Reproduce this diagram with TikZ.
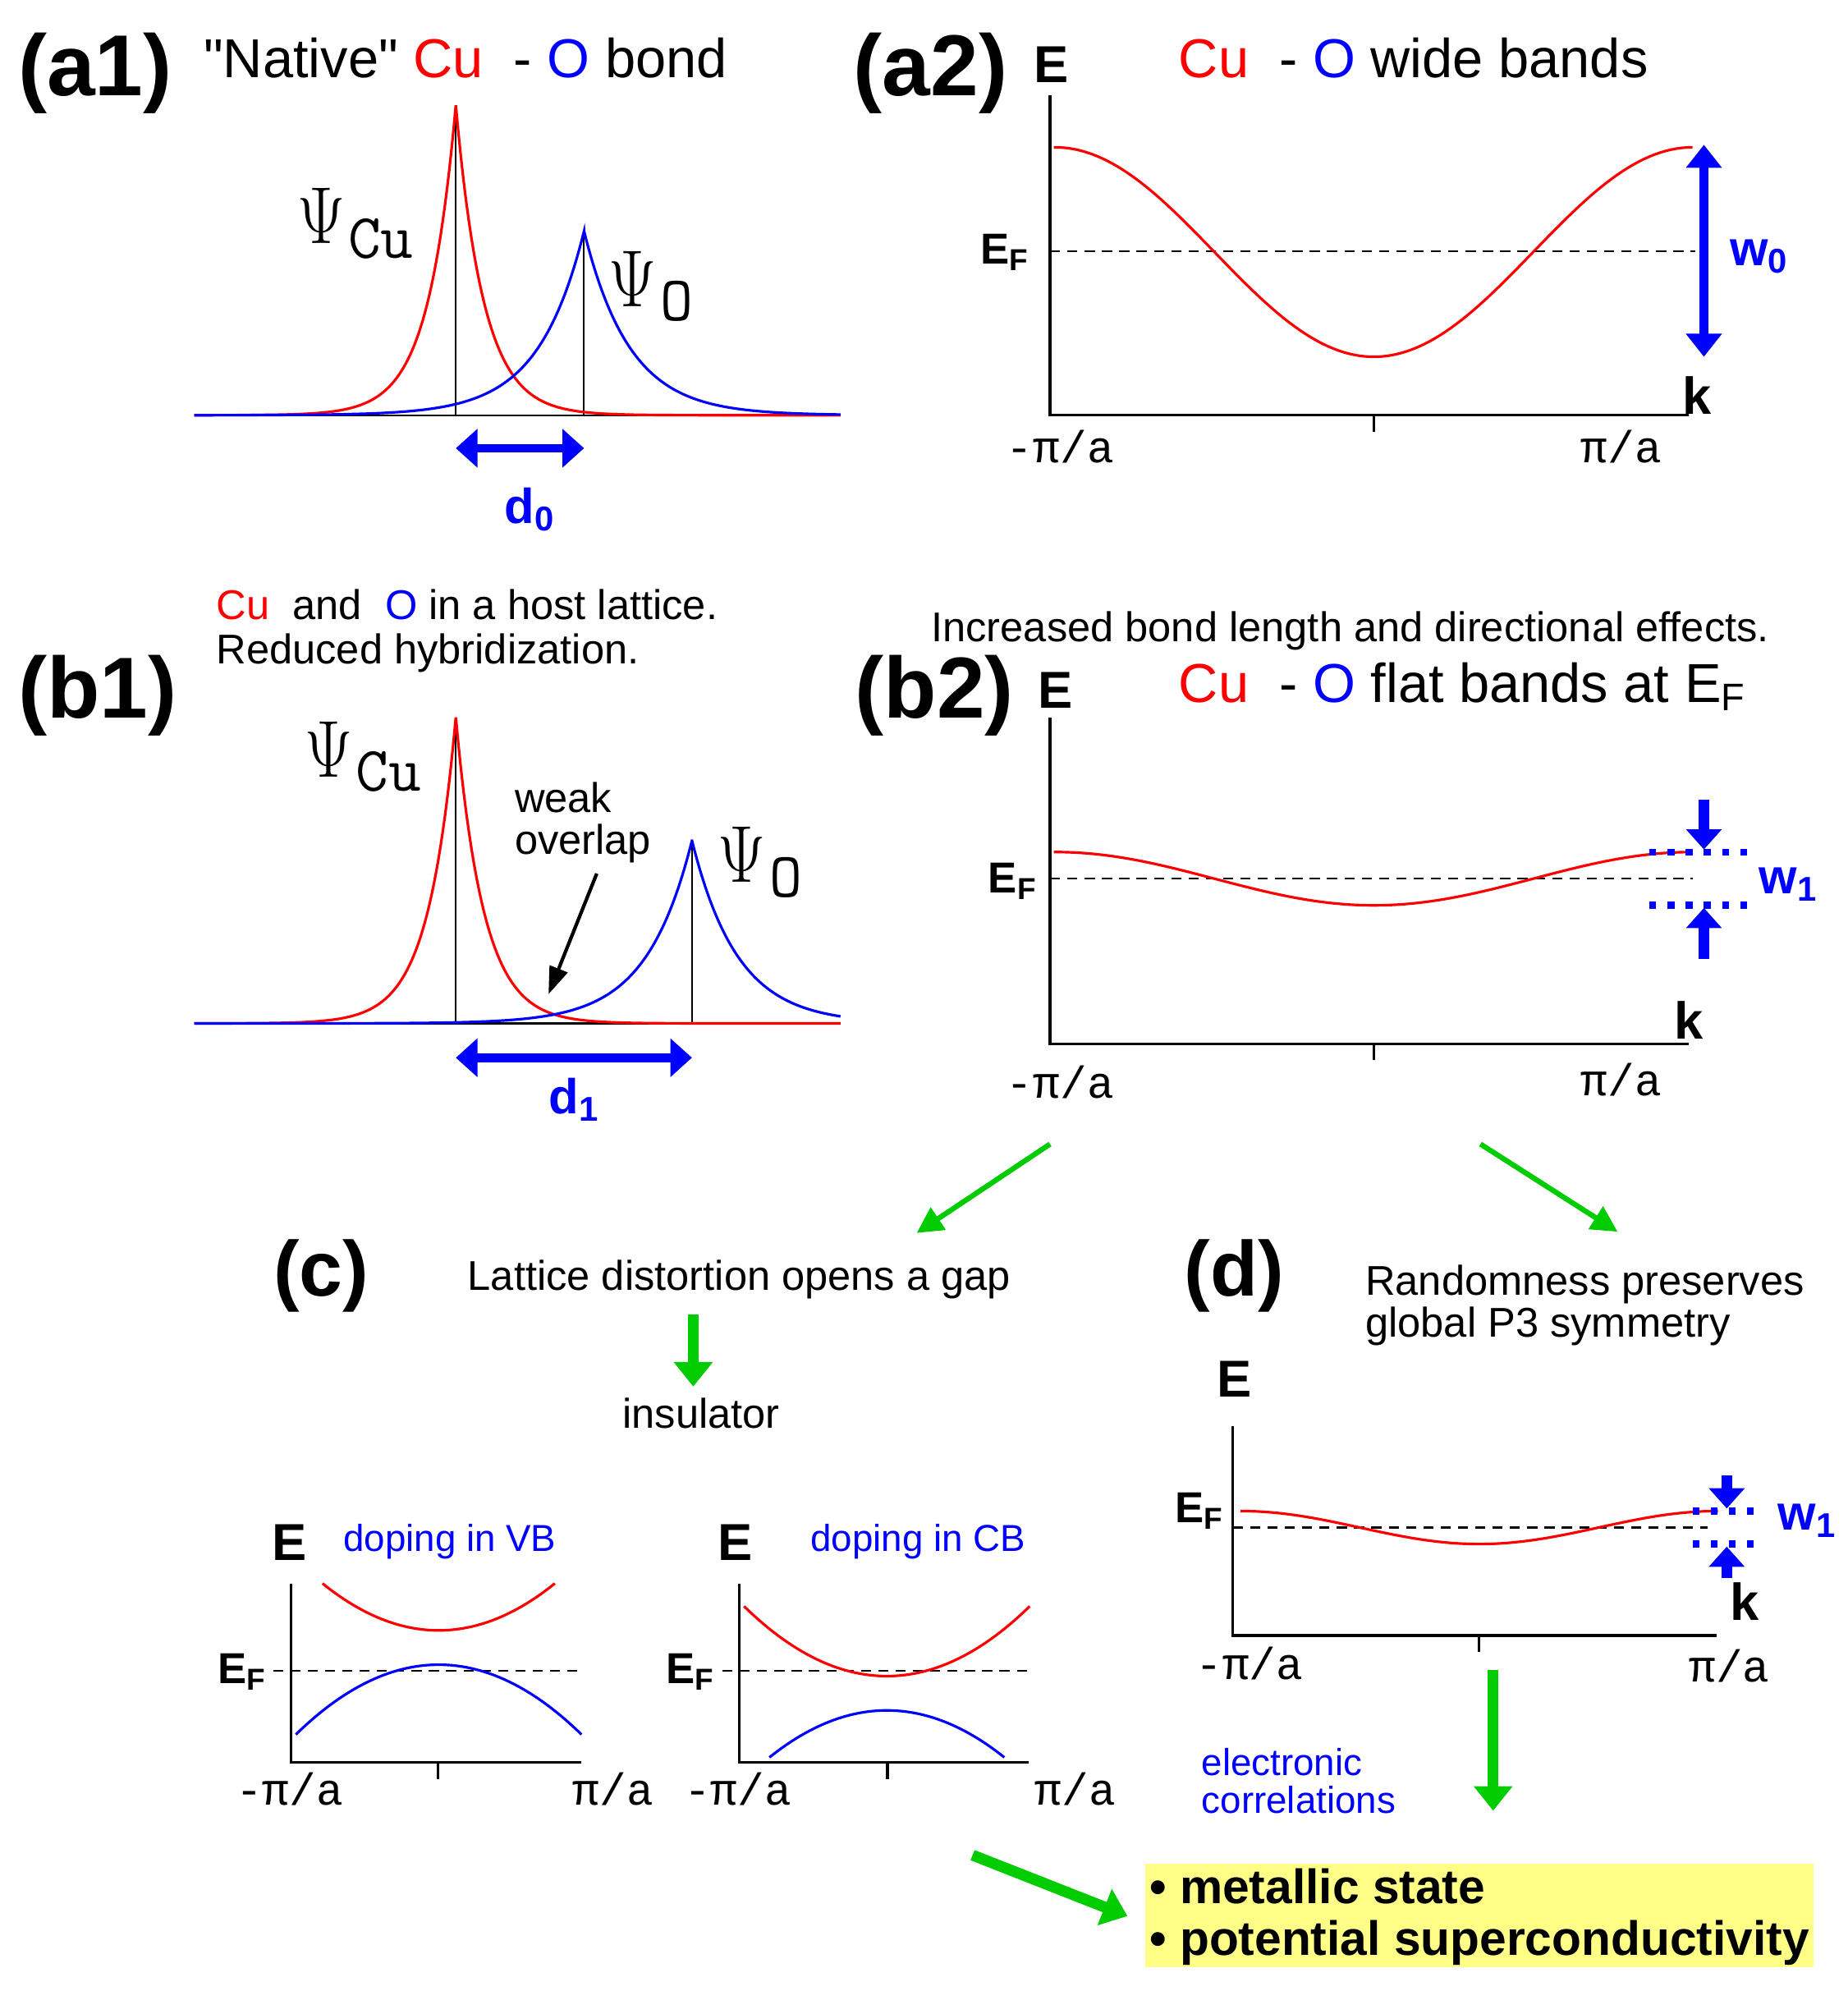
\RequirePackage{fix-cm}
\documentclass[tikz,border=0pt]{standalone}
\usepackage[no-math]{fontspec}
\setmainfont{Liberation Sans}
\newfontfamily\mymono{Liberation Mono}
\usetikzlibrary{arrows.meta}
\definecolor{grn}{RGB}{0,204,0}
\definecolor{yel}{RGB}{255,255,136}
\tikzset{
 panellbl/.style={inner sep=0, font=\fontsize{30}{30}\selectfont\bfseries},
 panellbs/.style={inner sep=0, font=\fontsize{27}{27}\selectfont\bfseries},
 ttl/.style={inner sep=0, anchor=base west, font=\fontsize{19}{22}\selectfont},
 txt/.style={inner sep=0, anchor=base west, font=\fontsize{14.4}{17}\selectfont},
 smtxt/.style={inner sep=0, anchor=base west, font=\fontsize{13}{15}\selectfont, text=blue},
 elbl/.style={inner sep=0, anchor=base west, font=\fontsize{18}{18}\selectfont\bfseries},
 eflbl/.style={inner sep=0, anchor=base west, font=\fontsize{15}{15}\selectfont\bfseries},
 wlbl/.style={inner sep=0, anchor=base west, font=\fontsize{17}{17}\selectfont\bfseries, text=blue},
 pilbl/.style={inner sep=0, font=\fontsize{15.5}{16}\selectfont\mymono},
 psilbl/.style={inner sep=0, font=\fontsize{28}{28}\selectfont},
 psisub/.style={inner sep=0, font=\fontsize{22}{22}\selectfont\ttfamily},
 boxtxt/.style={inner sep=0, anchor=base west, font=\fontsize{16.7}{19}\selectfont\bfseries},
 axisln/.style={line width=0.9pt},
 thinln/.style={line width=0.6pt},
 efline/.style={line width=0.6pt, dash pattern=on 3.5pt off 2.5pt},
 bandln/.style={line width=0.9pt},
 dblarr/.style={blue, line width=3pt, {Triangle[length=7.5pt,width=13pt]}-{Triangle[length=7.5pt,width=13pt]}},
 warr/.style={blue, line width=3.8pt, -{Triangle[length=7pt,width=12pt]}},
 wdots/.style={blue, line width=2.4pt, dash pattern=on 2.4pt off 3.9pt},
 garr/.style={grn, line width=1.8pt, -{Triangle[length=9pt,width=9pt]}},
 gfat/.style={grn, line width=3.8pt, -{Triangle[length=8.5pt,width=13pt]}},
 karr/.style={black, line width=1.2pt, -{Triangle[length=9.5pt,width=6.5pt]}},
}
\newcommand\psiglyph{\scalebox{0.82}[1]{$\Psi$}}
\begin{document}
\begin{tikzpicture}[x=0.15464mm,y=-0.15464mm]
\useasboundingbox (0,0) rectangle (1455,1568);

% ---------------- (a1)
\node[panellbl] (la1) at (75,58) {(a1)};
\node[ttl] (ta1) at (160,61) {\textquotedbl Native\textquotedbl{} \textcolor{red}{Cu}~~- \textcolor{blue}{O} bond};
\draw[thinln] (153,327) -- (662,327);
\draw[thinln] (359,83) -- (359,327);
\draw[thinln] (460,182) -- (460,327);
\draw[red,bandln] plot[domain=153:359,samples=120] (\x,{327-244*exp(-(359-\x)/22)})
  -- plot[domain=359:662,samples=150] (\x,{327-244*exp(-(\x-359)/22)});
\draw[blue,bandln] plot[domain=153:460,samples=150] (\x,{327-145*exp(-(460-\x)/36)})
  -- plot[domain=460:662,samples=120] (\x,{327-145*exp(-(\x-460)/36)});
\node[psilbl] (psa1) at (253,170) {\psiglyph};
\node[psisub] (psa1s) at (300,188) {Cu};
\node[psilbl] (poa1) at (498,220) {\psiglyph};
\node[psisub] (poa1s) at (533,237) {O};
\coordinate (d0l) at (359,353);
\coordinate (d0r) at (460,353);
\draw[dblarr] (d0l) -- (d0r);
\node[wlbl] (d0) at (397,412) {d\textsubscript{0}};

% ---------------- (a2)
\node[panellbl] (la2) at (733,58) {(a2)};
\node[elbl] (ea2) at (814,65) {E};
\node[ttl] (ta2) at (928,61) {\textcolor{red}{Cu}~~- \textcolor{blue}{O} wide bands};
\draw[axisln] (827,75) -- (827,327) -- (1330,327);
\draw[axisln] (1082,327) -- (1082,340);
\node[elbl] (ka2) at (1325,326) {k};
\node[pilbl] (pla2) at (835,352) {-π/a};
\node[pilbl] (pra2) at (1277,352) {π/a};
\node[eflbl] (efa2) at (772,208) {E\textsubscript{F}};
\draw[efline] (827,198) -- (1335,198);
\draw[red,bandln] plot[domain=830:1333,samples=120] (\x,{198.5+82.5*cos((\x-1082)/251*180)});
\coordinate (w0t) at (1342,114);
\coordinate (w0b) at (1342,281);
\draw[blue, line width=3.4pt, {Triangle[length=8pt,width=12pt]}-{Triangle[length=8pt,width=12pt]}] (w0t) -- (w0b);
\node[wlbl] (w0) at (1362,209) {w\textsubscript{0}};

% ---------------- (b1)
\node[panellbl] (lb1) at (77,548) {(b1)};
\node[txt] (tb1a) at (170,488) {\textcolor{red}{Cu}~~and~~\textcolor{blue}{O} in a host lattice.};
\node[txt] (tb1b) at (170,523) {Reduced hybridization.};
\draw[thinln] (153,806) -- (662,806);
\draw[thinln] (359,565) -- (359,806);
\draw[thinln] (545,662) -- (545,806);
\draw[red,bandln] plot[domain=153:359,samples=120] (\x,{806-241*exp(-(359-\x)/22)})
  -- plot[domain=359:662,samples=150] (\x,{806-241*exp(-(\x-359)/22)});
\draw[blue,bandln] plot[domain=153:545,samples=180] (\x,{806-144*exp(-(545-\x)/36)})
  -- plot[domain=545:662,samples=80] (\x,{806-144*exp(-(\x-545)/36)});
\node[psilbl] (psb1) at (259,590) {\psiglyph};
\node[psisub] (psb1s) at (306,608) {Cu};
\node[psilbl] (pob1) at (584,673) {\psiglyph};
\node[psisub] (pob1s) at (619,691) {O};
\node[txt] (wk1) at (405,640) {weak};
\node[txt] (wk2) at (405,673) {overlap};
\coordinate (wks) at (470,688);
\coordinate (wke) at (432,783);
\draw[karr] (wks) -- (wke);
\coordinate (d1l) at (359,833);
\coordinate (d1r) at (545,833);
\draw[dblarr] (d1l) -- (d1r);
\node[wlbl] (d1) at (432,877) {d\textsubscript{1}};

% ---------------- (b2)
\node[txt] (tb2) at (733,505) {Increased bond length and directional effects.};
\node[panellbl] (lb2) at (736,548) {(b2)};
\node[elbl] (eb2) at (817,558) {E};
\node[ttl] (ttb2) at (928,553) {\textcolor{red}{Cu}~~- \textcolor{blue}{O} flat bands at E\textsubscript{F}};
\draw[axisln] (827,565) -- (827,822) -- (1330,822);
\draw[axisln] (1082,822) -- (1082,835);
\node[elbl] (kb2) at (1318,818) {k};
\node[pilbl] (plb2) at (835,852) {-π/a};
\node[pilbl] (prb2) at (1277,850) {π/a};
\node[eflbl] (efb2) at (778,703) {E\textsubscript{F}};
\draw[efline] (827,692) -- (1333,692);
\draw[red,bandln] plot[domain=830:1333,samples=120] (\x,{692+21*cos((\x-1082)/251*180)});
\draw[wdots] (1299,671) -- (1380,671);
\draw[wdots] (1299,713) -- (1380,713);
\coordinate (w1at) at (1342,630);
\coordinate (w1ab) at (1342,669);
\coordinate (w1bt) at (1342,755);
\coordinate (w1bb) at (1342,715);
\draw[warr] (w1at) -- (w1ab);
\draw[warr] (w1bt) -- (w1bb);
\node[wlbl] (w1b2) at (1385,704) {w\textsubscript{1}};

% ---------------- flow arrows
\coordinate (g1s) at (827,901);
\coordinate (g1e) at (722,971);
\coordinate (g2s) at (1166,901);
\coordinate (g2e) at (1274,970);
\draw[garr] (g1s) -- (g1e);
\draw[garr] (g2s) -- (g2e);

% ---------------- (c)
\node[panellbs] (lc) at (253,1005) {(c)};
\node[txt] (tc) at (368,1016) {Lattice distortion opens a gap};
\coordinate (g3s) at (546,1035);
\coordinate (g3e) at (546,1092);
\draw[gfat] (g3s) -- (g3e);
\node[txt] (ins) at (490,1125) {insulator};

% left small plot
\node[elbl] (ec1) at (214,1229) {E};
\node[smtxt] (dvb) at (270,1222) {doping in VB};
\draw[axisln] (229,1247) -- (229,1388) -- (458,1388);
\draw[axisln] (345,1388) -- (345,1401);
\node[eflbl] (efc1) at (171,1326) {E\textsubscript{F}};
\draw[efline] (215,1316) -- (458,1316);
\draw[red,bandln] plot[domain=254:437,samples=60] (\x,{1284-37*((\x-345.5)/91.5)^2});
\draw[blue,bandln] plot[domain=233:458,samples=60] (\x,{1311+55*((\x-345.5)/112.5)^2});
\node[pilbl] (plc1) at (228,1409) {-π/a};
\node[pilbl] (prc1) at (483,1409) {π/a};

% right small plot
\node[elbl] (ec2) at (565,1229) {E};
\node[smtxt] (dcb) at (638,1222) {doping in CB};
\draw[axisln] (582,1247) -- (582,1388) -- (810,1388);
\draw[axisln] (699,1388) -- (699,1401);
\node[eflbl] (efc2) at (524,1326) {E\textsubscript{F}};
\draw[efline] (569,1316) -- (810,1316);
\draw[red,bandln] plot[domain=586:811,samples=60] (\x,{1320-55*((\x-698.5)/112.5)^2});
\draw[blue,bandln] plot[domain=606:791,samples=60] (\x,{1347+37*((\x-698.5)/92.5)^2});
\node[pilbl] (plc2) at (581,1409) {-π/a};
\node[pilbl] (prc2) at (847,1409) {π/a};

% ---------------- (d)
\node[panellbs] (ld) at (972,1005) {(d)};
\node[txt] (td1) at (1075,1020) {Randomness preserves};
\node[txt] (td2) at (1075,1053) {global P3 symmetry};
\node[elbl] (ed) at (958,1100) {E};
\draw[axisln] (971,1123) -- (971,1288) -- (1352,1288);
\draw[axisln] (1165,1288) -- (1165,1301);
\node[eflbl] (efd) at (925,1199) {E\textsubscript{F}};
\draw[efline] (971,1203) -- (1345,1203);
\draw[red,bandln] plot[domain=977:1353,samples=100] (\x,{1203+13*cos((\x-1165)/188*180)});
\draw[wdots] (1333,1190) -- (1388,1190);
\draw[wdots] (1333,1216) -- (1388,1216);
\coordinate (w2at) at (1360,1162);
\coordinate (w2ab) at (1360,1188);
\coordinate (w2bt) at (1360,1243);
\coordinate (w2bb) at (1360,1218);
\draw[warr] (w2at) -- (w2ab);
\draw[warr] (w2bt) -- (w2bb);
\node[wlbl] (w1d) at (1400,1205) {w\textsubscript{1}};
\node[elbl] (kd) at (1362,1276) {k};
\node[pilbl] (pld) at (984,1310) {-π/a};
\node[pilbl] (prd) at (1362,1312) {π/a};
\coordinate (g4s) at (1176,1315);
\coordinate (g4e) at (1176,1426);
\draw[gfat] (g4s) -- (g4e);
\node[smtxt] (ec) at (946,1398) {electronic};
\node[smtxt] (cor) at (946,1428) {correlations};

% ---------------- result box
\fill[yel] (902,1468) rectangle (1428,1549);
\node[boxtxt] (m1) at (905,1499) {• metallic state};
\node[boxtxt] (m2) at (905,1540) {• potential superconductivity};
\coordinate (g5s) at (766,1461);
\coordinate (g5e) at (888,1509);
\draw[gfat] (g5s) -- (g5e);
\end{tikzpicture}
\end{document}
